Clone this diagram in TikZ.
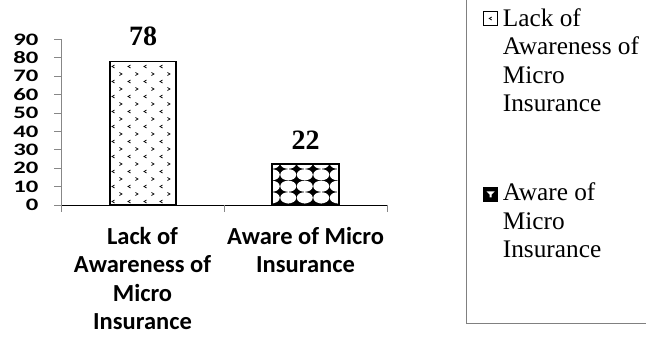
\documentclass[tikz,border=0pt]{standalone}
\usepackage{fontspec}
\usepackage{graphicx}
\setmainfont{Liberation Serif}
\newfontfamily\calfont{Carlito}
\begin{document}
\begin{tikzpicture}[x=1pt,y=-1pt,
  axisgray/.style={draw=black!47, line width=0.8pt},
  ticklab/.style={font=\calfont\bfseries\fontsize{19}{19}\selectfont, inner sep=0, anchor=east},
  vallab/.style={font=\bfseries\fontsize{28}{28}\selectfont, inner sep=0},
  catlab/.style={font=\calfont\bfseries\fontsize{24.5}{28.5}\selectfont, align=center, inner sep=0, anchor=base},
  leglab/.style={font=\fontsize{25.3}{28.5}\selectfont, align=left, inner sep=0, anchor=base west},
  barline/.style={draw=black, line width=1.8pt},
  chev/.style={line width=0.7pt},
  legbox/.style={draw=black, line width=1.6pt, minimum size=14pt, inner sep=0}
]
\useasboundingbox (0,0) rectangle (646,339);
% y axis
\draw[axisgray] (61,39) -- (61,212);
\foreach \v in {0,10,...,90}{
  \draw[axisgray] (54,{205-1.84*\v}) -- (61,{205-1.84*\v});
  \node[ticklab] (t\v) at (38.5,{205-1.84*\v}) {\scalebox{1.3}[0.92]{\v}};
}
% bar 1
\coordinate (b1a) at (110,61.5);
\coordinate (b1b) at (175.7,205);
\begin{scope}
\clip (b1a) rectangle (b1b);
\fill[white] (b1a) rectangle (b1b);
\foreach \r in {0,...,19}{
  \pgfmathsetmacro\yy{66.5+7.5*\r}
  \ifodd\r
    \foreach \xx in {120.7,136.7,152.7,168.7}
      \draw[chev] ({\xx-1.3},{\yy-1.5}) -- ({\xx+1.3},\yy) -- ({\xx-1.3},{\yy+1.5});
  \else
    \foreach \xx in {113.3,129.3,145.3,161.3}
      \draw[chev] ({\xx+1.3},{\yy-1.5}) -- ({\xx-1.3},\yy) -- ({\xx+1.3},{\yy+1.5});
  \fi
}
\end{scope}
\draw[barline] (b1a) rectangle (b1b);
% bar 2
\coordinate (b2a) at (272,164);
\coordinate (b2b) at (339,205);
\begin{scope}
\clip (b2a) rectangle (b2b);
\fill[black] (b2a) rectangle (b2b);
\foreach \cx in {271.75,288.25,304.75,321.25,337.75}{
  \foreach \cy in {163.25,174.75,186.25,197.75,209.25}{
    \fill[white] (\cx,\cy) ellipse [x radius=8pt, y radius=5.6pt];
  }
}
\end{scope}
\draw[barline] (b2a) rectangle (b2b);
% x axis
\draw[black, line width=0.9pt] (61,205) -- (387,205);
\foreach \xx in {61,224,387}
  \draw[axisgray] (\xx,205) -- (\xx,212);
% value labels
\node[vallab] (v1) at (143,36) {78};
\node[vallab] (v2) at (305.5,140.5) {22};
% category labels (base = last line)
\node[catlab] (c1) at (142.5,330) {Lack of\\Awareness of\\Micro\\Insurance};
\node[catlab] (c2) at (305.5,273) {Aware of Micro\\Insurance};
% legend frame
\draw[draw=black!50, line width=0.8pt] (466,0) -- (466,323) -- (646,323);
% legend entries
\node[legbox, fill=white] (m1) at (490.5,18.5) {};
\draw[line width=0.8pt] ([xshift=1.2pt,yshift=-1.5pt]m1.center) -- ([xshift=-1.2pt]m1.center) -- ([xshift=1.2pt,yshift=1.5pt]m1.center);
\node[leglab] (l1) at (502.7,111.7) {Lack of\\Awareness of\\Micro\\Insurance};
\node[legbox, fill=black] (m2) at (490.5,194.5) {};
\fill[white] ([xshift=-4pt,yshift=3pt]m2.center) -- ([xshift=4pt,yshift=3pt]m2.center) -- ([xshift=1pt,yshift=0pt]m2.center) -- ([xshift=1pt,yshift=-3pt]m2.center) -- ([xshift=-1pt,yshift=-3pt]m2.center) -- ([xshift=-1pt,yshift=0pt]m2.center) -- cycle;
\node[leglab] (l2) at (502.7,258) {Aware of\\Micro\\Insurance};
\end{tikzpicture}
\end{document}
